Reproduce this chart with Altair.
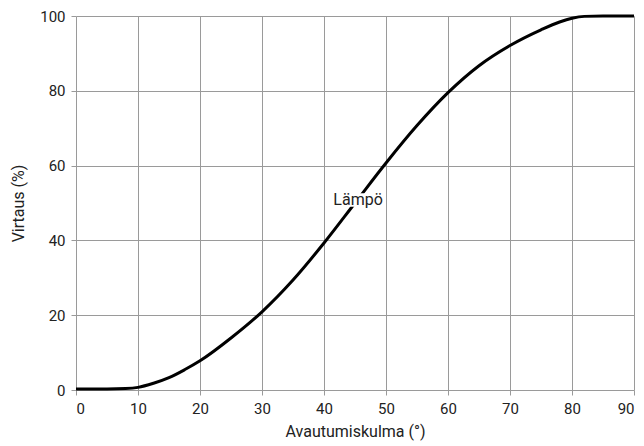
import altair as alt
import pandas as pd

angle = [0, 5, 8, 10, 12.5, 15, 17.5, 20, 25, 30, 35, 40, 45, 50, 55, 60, 65, 70, 75, 78, 80, 82, 85, 90]
flow = [0.3, 0.3, 0.4, 0.7, 1.8, 3.3, 5.4, 7.8, 13.9, 20.9, 29.4, 39.3, 50.0, 60.7, 70.7, 79.5, 86.7, 92.1, 96.3, 98.4, 99.4, 99.9, 100, 100]

label_text = ["Lämpö"]
label_x = [45.5]
label_y = [50.8]

df = pd.DataFrame({"angle": angle, "flow": flow})
lab = pd.DataFrame({"x": label_x, "y": label_y, "t": label_text})

FONT = "Roboto"

xs = alt.Scale(domain=[0, 90], nice=False)
ys = alt.Scale(domain=[0, 100], nice=False)

line = alt.Chart(df).mark_line(color="black", strokeWidth=3, interpolate="monotone").encode(
    x=alt.X("angle:Q", scale=xs, title="Avautumiskulma  (°)",
            axis=alt.Axis(values=list(range(0, 91, 10)), grid=True)),
    y=alt.Y("flow:Q", scale=ys, title="Virtaus  (%)",
            axis=alt.Axis(values=list(range(0, 101, 20)), grid=True)),
)

box = alt.Chart(lab).mark_point(
    shape="M-1,-0.45L1,-0.45L1,0.45L-1,0.45Z", filled=True, color="white", opacity=1, size=900
).encode(x=alt.X("x:Q", scale=xs), y=alt.Y("y:Q", scale=ys))

txt = alt.Chart(lab).mark_text(font=FONT, fontSize=16, color="#222").encode(
    x=alt.X("x:Q", scale=xs), y=alt.Y("y:Q", scale=ys), text="t:N")

chart = alt.layer(line, box, txt).properties(
    width=558, height=374,
    autosize=alt.AutoSizeParams(type="none"),
    padding={"left": 68, "top": 8, "right": 2, "bottom": 54},
).configure_view(stroke=None).configure_axis(
    domain=False, gridColor="#9a9a9a", gridWidth=1, tickColor="#9a9a9a", tickSize=5,
    labelFont=FONT, labelFontSize=15, labelColor="#222", titleFont=FONT, titleFontSize=16,
    titleFontWeight="normal", titleColor="#222",
).configure_axisX(labelPadding=6, titlePadding=7).configure_axisY(labelPadding=6, titlePadding=13)

chart.save("out.html", embed_options={"renderer": "svg", "actions": False})
